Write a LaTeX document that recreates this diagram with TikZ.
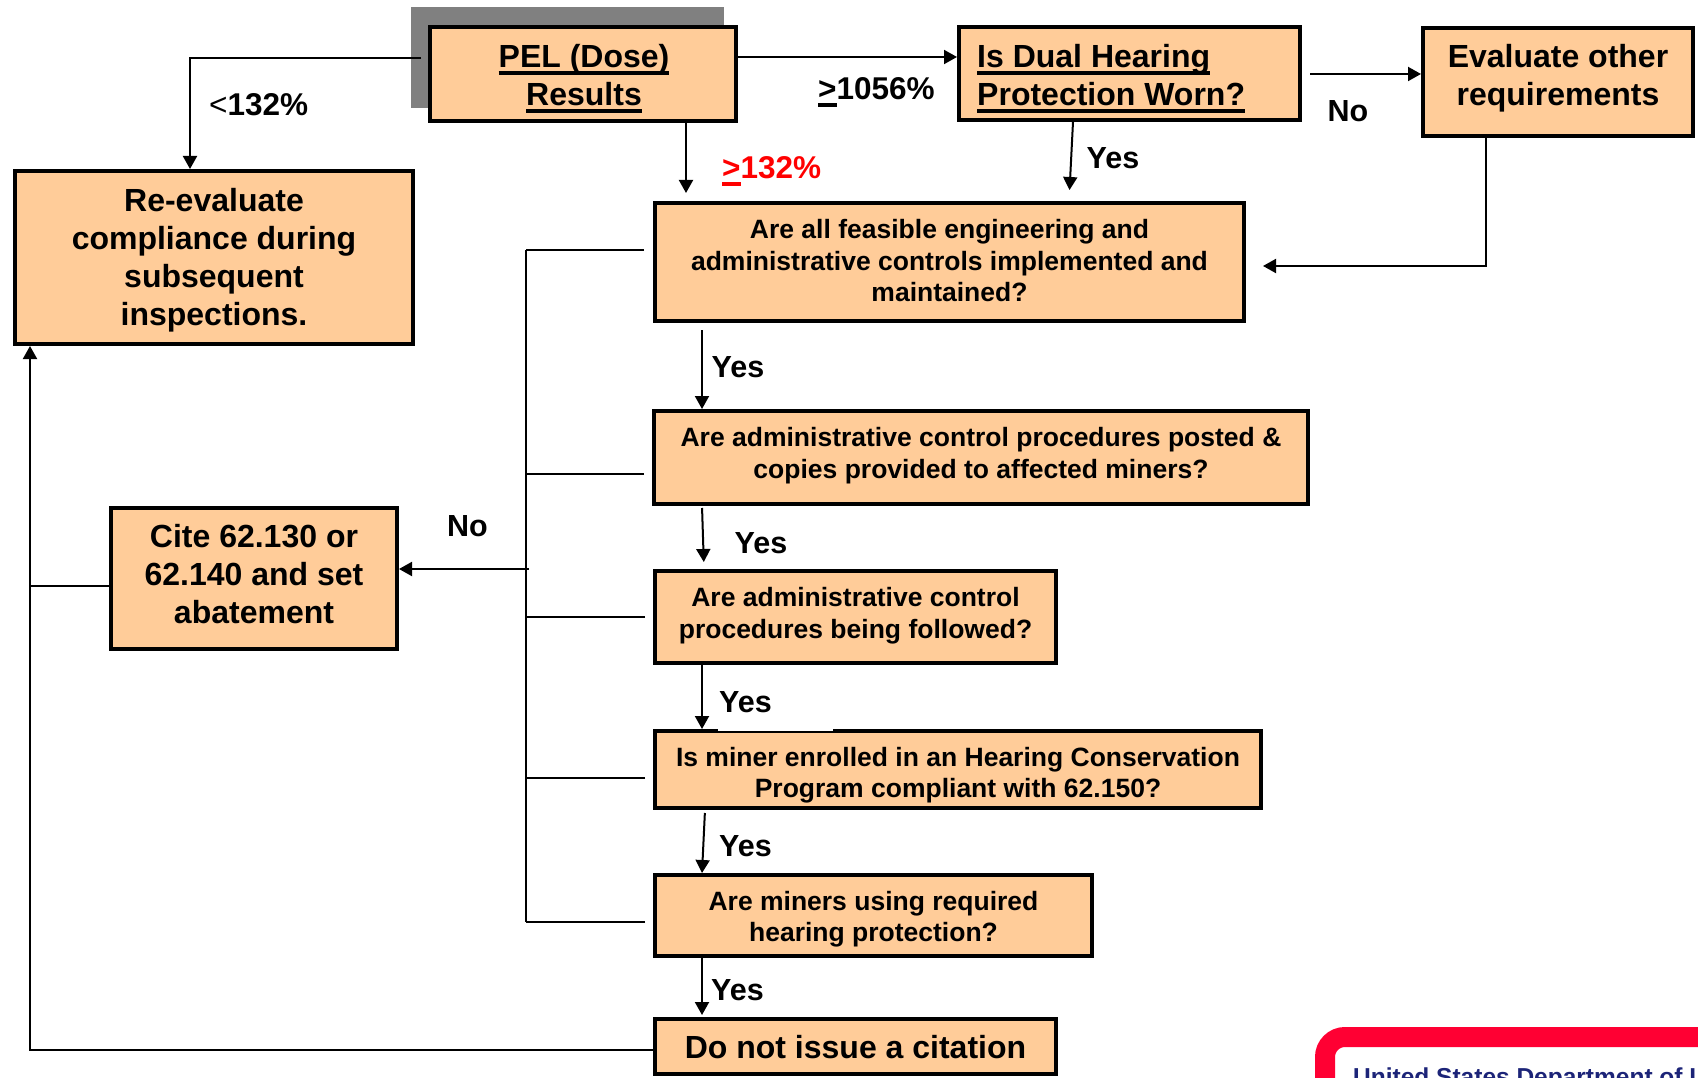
\documentclass[tikz,border=0pt]{standalone}
\usepackage{fontspec}
\setmainfont{Liberation Sans}
\usetikzlibrary{arrows.meta}
\definecolor{peach}{RGB}{255,204,153}
\definecolor{shadowgray}{RGB}{128,128,128}
\definecolor{logored}{RGB}{255,0,51}
\definecolor{logoblue}{RGB}{28,36,120}
\newcommand\myul[1]{\leavevmode\setbox0\hbox{#1}\rlap{\rule[-7pt]{\wd0}{3.5pt}}\box0\relax}
\begin{document}
\begin{tikzpicture}[x=1pt,y=-1pt,
  box/.style={draw=black, line width=4pt, fill=peach, inner sep=0pt},
  bigtext/.style={font=\fontsize{32}{38}\selectfont\bfseries, align=center, inner sep=0pt, text depth=0pt},
  qtext/.style={font=\fontsize{26.5}{31.5}\selectfont\bfseries, align=center, inner sep=0pt, text depth=0pt},
  lbl/.style={font=\fontsize{31.5}{36}\selectfont\bfseries, inner sep=0pt, text depth=0pt},
  yeslbl/.style={font=\fontsize{30.5}{36}\selectfont\bfseries, inner sep=0pt, text depth=0pt},
  conn/.style={line width=2pt},
  arr/.style={line width=2pt, -{Triangle[length=13pt,width=14pt]}},
]
\useasboundingbox (0,0) rectangle (1698,1078);

% shadow behind PEL box
\fill[shadowgray] (411,7) rectangle (724,108);

% boxes
\node[box, minimum width=306pt, minimum height=94pt] (pel) at (583,74) {};
\node[box, minimum width=341pt, minimum height=93pt] (dual) at (1129.5,73.5) {};
\node[box, minimum width=270pt, minimum height=108pt] (eval) at (1558,82) {};
\node[box, minimum width=398pt, minimum height=173pt] (reeval) at (214,257.5) {};
\node[box, minimum width=589pt, minimum height=118pt] (q1) at (949.5,262) {};
\node[box, minimum width=654pt, minimum height=93pt] (q2) at (981,457.5) {};
\node[box, minimum width=401pt, minimum height=92pt] (q3) at (855.5,617) {};
\node[box, minimum width=606pt, minimum height=77pt] (q4) at (958,769.5) {};
\node[box, minimum width=437pt, minimum height=81pt] (q5) at (873.5,915.5) {};
\node[box, minimum width=401pt, minimum height=55pt] (q6) at (855.5,1046.5) {};
\node[box, minimum width=286pt, minimum height=141pt] (cite) at (254,578.5) {};

% texts
\node[bigtext] (pelt) at (584,75) {\myul{PEL (Dose)}\\\myul{Results}};
\node[bigtext, align=left, anchor=west] (dualt) at (977,75) {\myul{Is Dual Hearing}\\\myul{Protection Worn?}};
\node[bigtext] (evalt) at (1558,75) {Evaluate other\\requirements};
\node[bigtext] (reevalt) at (214,257) {Re-evaluate\\compliance during\\subsequent\\inspections.};
\node[qtext] (q1t) at (949.5,260.5) {Are all feasible engineering and\\administrative controls implemented and\\maintained?};
\node[qtext] (q2t) at (981,453) {Are administrative control procedures posted \&\\copies provided to affected miners?};
\node[qtext] (q3t) at (855.5,613) {Are administrative control\\procedures being followed?};
\node[qtext] (q4t) at (958,772.5) {Is miner enrolled in an Hearing Conservation\\Program compliant with 62.150?};
\node[qtext] (q5t) at (873.5,916.5) {Are miners using required\\hearing protection?};
\node[bigtext] (q6t) at (855.5,1047) {Do not issue a citation};
\node[bigtext] (citet) at (254,574) {Cite 62.130 or\\62.140 and set\\abatement};

% connectors
\coordinate (pelL) at (421,58);
\draw[arr] (pelL) -- (190,58) -- (reeval.north -| 190,0);
\draw[arr] (pel.east |- 0,57) -- (dual.west |- 0,57);
\draw[arr, shorten >=8pt] (pel.south -| 686,0) -- (q1.north -| 686,0);
\draw[arr, shorten >=11pt] (dual.south -| 1073,0) -- (q1.north -| 1069,0);
\draw[arr, shorten <=8pt] (dual.east |- 0,74) -- (eval.west |- 0,74);
\draw[arr, shorten >=17pt] (eval.south -| 1486,0) |- (q1.east |- 0,266);

\draw[arr, shorten <=7pt] (q1.south -| 702,0) -- (q2.north -| 702,0);
\draw[arr, shorten <=2pt, shorten >=7pt] (q2.south -| 702,0) -- (q3.north -| 704,0);
\draw[arr] (q3.south -| 702,0) -- (q4.north -| 702,0);
\draw[arr, shorten <=3pt] (q4.south -| 705,0) -- (q5.north -| 702,0);
\draw[arr, shorten >=2pt] (q5.south -| 702,0) -- (q6.north -| 702,0);

% bus of "No" answers
\coordinate (busT) at (526,250);
\coordinate (busB) at (526,922);
\draw[conn] (busT) -- (busB);
\draw[conn, shorten <=9pt] (q1.west |- busT) -- (busT);
\draw[conn, shorten <=8pt] (q2.west |- 0,474) -- (busT |- 0,474);
\draw[conn, shorten <=8pt] (q3.west |- 0,617) -- (busT |- 0,617);
\draw[conn, shorten <=8pt] (q4.west |- 0,778) -- (busT |- 0,778);
\draw[conn, shorten <=8pt] (q5.west |- busB) -- (busB);
\draw[arr] (529,569) coordinate (busNo) -- (cite.east |- busNo);

% loop back to re-evaluate
\draw[conn] (cite.west |- 0,586) -- (30,586);
\draw[arr] (q6.west |- 0,1050) -- (30,1050) -- (reeval.south -| 30,0);

% white patch behind the Yes label on Q4 top border
\fill[white] (718,727) rectangle (833,730.5);

% labels
\node[lbl, anchor=west] (lt132) at (209,105) {{\mdseries <}132\%};
\node[lbl, anchor=west] (ge1056) at (818,89) {\myul{>}1056\%};
\node[lbl, anchor=west, text=red] (ge132) at (722,168) {\myul{>}132\%};
\node[yeslbl] (noR) at (1348,111) {No};
\node[yeslbl] (yes0) at (1113,158) {Yes};
\node[yeslbl] (yes1) at (738,367) {Yes};
\node[yeslbl] (yes2) at (761,543) {Yes};
\node[yeslbl] (yes3) at (745.5,702) {Yes};
\node[yeslbl] (yes4) at (745.5,846) {Yes};
\node[yeslbl] (yes5) at (737.5,990) {Yes};
\node[yeslbl] (noL) at (467.5,526) {No};

% partial logo, cut off at the page corner
\begin{scope}
\clip (0,0) rectangle (1698,1078);
\draw[logored, line width=20pt, rounded corners=20pt] (1325,1037) rectangle (1780,1220);
\node[anchor=base west, inner sep=0pt, text=logoblue, font=\fontsize{24.5}{28}\selectfont\bfseries] (dol) at (1353,1085.5) {United States Department of Labor};
\end{scope}
\end{tikzpicture}
\end{document}
